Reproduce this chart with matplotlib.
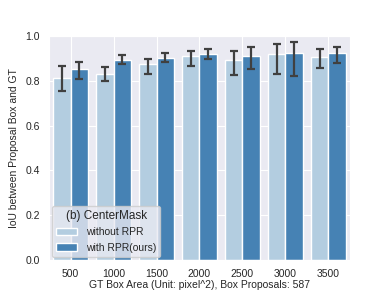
import matplotlib
matplotlib.use('Agg')
import matplotlib.pyplot as plt
import seaborn as sns
import numpy as np

sns.set_style('darkgrid')
plt.rcParams['font.family'] = ['Liberation Sans', 'DejaVu Sans']

areas = ['500', '1000', '1500', '2000', '2500', '3000', '3500']
without_rpr = [0.814, 0.829, 0.873, 0.909, 0.894, 0.921, 0.906]
without_lo = [0.754, 0.798, 0.830, 0.867, 0.827, 0.829, 0.857]
without_hi = [0.866, 0.860, 0.899, 0.933, 0.934, 0.966, 0.943]
with_rpr = [0.851, 0.894, 0.903, 0.921, 0.909, 0.926, 0.926]
with_lo = [0.808, 0.876, 0.882, 0.899, 0.853, 0.821, 0.879]
with_hi = [0.882, 0.914, 0.926, 0.942, 0.951, 0.975, 0.950]

fig = plt.figure(figsize=(3.9, 2.93), dpi=100)
ax = fig.add_axes([0.126, 0.113, 0.771, 0.764])

x = np.arange(len(areas))
w = 0.4
light = '#b3cde0'
dark = '#4682b4'

def err(v, lo, hi):
    v = np.array(v)
    return [v - np.array(lo), np.array(hi) - v]

ax.bar(x - w / 2, without_rpr, w, color=light, edgecolor='white', linewidth=1,
       label='without RPR', zorder=2)
ax.bar(x + w / 2, with_rpr, w, color=dark, edgecolor='white', linewidth=1,
       label='with RPR(ours)', zorder=2)
ax.errorbar(x - w / 2, without_rpr, yerr=err(without_rpr, without_lo, without_hi),
            fmt='none', ecolor='#404040', elinewidth=1.6, capsize=3, capthick=1.6, zorder=3)
ax.errorbar(x + w / 2, with_rpr, yerr=err(with_rpr, with_lo, with_hi),
            fmt='none', ecolor='#404040', elinewidth=1.6, capsize=3, capthick=1.6, zorder=3)

ax.set_xlim(-0.5, len(areas) - 0.5)
ax.set_ylim(0, 1.0)
ax.set_yticks([0.0, 0.2, 0.4, 0.6, 0.8, 1.0])
ax.set_xticks(x)
ax.set_xticklabels(areas)
ax.tick_params(labelsize=7.5, pad=3, labelcolor='#262626')

ax.set_xlabel('GT Box Area (Unit: pixel^2), Box Proposals: 587', fontsize=7.5,
              labelpad=1, color='#262626')
ax.set_ylabel('IoU between Proposal Box and GT', fontsize=7.5, labelpad=5,
              color='#262626')

leg = ax.legend(loc='lower left', title='(b) CenterMask', fontsize=7.5,
                title_fontsize=8.5, borderaxespad=0.3)

fig.savefig('out.png', dpi=100)
